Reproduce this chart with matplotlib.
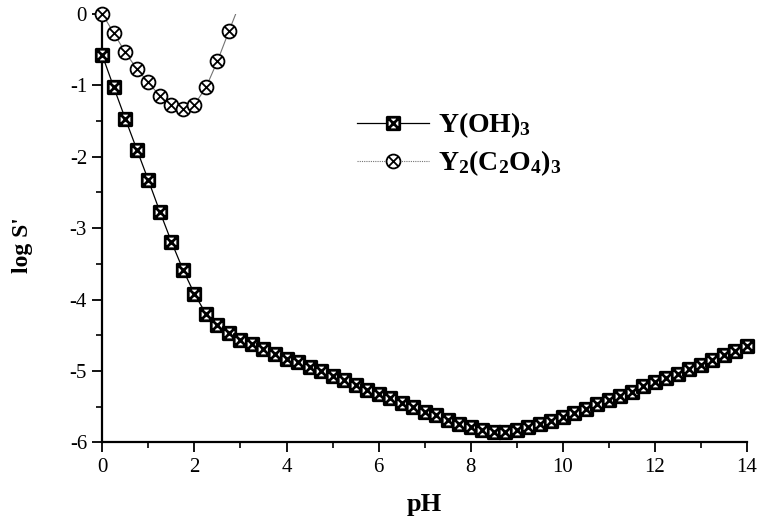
import numpy as np
import matplotlib
matplotlib.use("Agg")
import matplotlib.pyplot as plt
from matplotlib.path import Path
from matplotlib.ticker import MultipleLocator

plt.rcParams['font.family'] = ['Liberation Serif', 'DejaVu Serif']
plt.rcParams['mathtext.fontset'] = 'custom'
plt.rcParams['mathtext.rm'] = 'Liberation Serif:bold'
plt.rcParams['mathtext.default'] = 'rm'
plt.rcParams['axes.unicode_minus'] = False

# Y(OH)3, pH 0..14 step 0.25
ph_oh = np.arange(0, 14.01, 0.25)
logs_oh = [-0.58, -1.03, -1.47, -1.90, -2.33, -2.77, -3.19, -3.58, -3.92,
           -4.20, -4.36, -4.47, -4.56, -4.62, -4.69, -4.76, -4.83, -4.88,
           -4.95, -5.00, -5.07, -5.13, -5.19, -5.26, -5.32, -5.38, -5.45,
           -5.51, -5.57, -5.62, -5.69, -5.74, -5.78, -5.82, -5.85, -5.85,
           -5.83, -5.78, -5.74, -5.70, -5.65, -5.59, -5.53, -5.46, -5.41,
           -5.35, -5.29, -5.21, -5.15, -5.10, -5.04, -4.97, -4.91, -4.85,
           -4.78, -4.72, -4.65]

# Y2(C2O4)3, pH 0..3 step 0.25 (last point is above the axis top)
ph_ox = np.arange(0, 3.01, 0.25)
logs_ox = [0.00, -0.27, -0.54, -0.77, -0.96, -1.15, -1.27, -1.33, -1.27,
           -1.03, -0.66, -0.24, 0.17]

label_oh = "Y(OH)$_3$"
label_ox = "Y$_2$(C$_2$O$_4$)$_3$"

# marker shapes: square with X, circle with X
diag = Path.make_compound_path(Path([[-1, -1], [1, 1]]), Path([[-1, 1], [1, -1]]))
sq = Path([[-1, -1], [1, -1], [1, 1], [-1, 1], [-1, -1]], closed=True)
sq_x = Path.make_compound_path(sq, diag)
diag_c = Path.make_compound_path(Path([[-.707, -.707], [.707, .707]]),
                                 Path([[-.707, .707], [.707, -.707]]))
circ_x = Path.make_compound_path(Path.unit_circle(), diag_c)

fig = plt.figure(figsize=(7.58, 5.26), dpi=100)
ax = fig.add_axes([0.135, 0.159, 0.8505, 0.8145])

ph_ox = np.asarray(ph_ox)
logs_ox = np.asarray(logs_ox)
inside = logs_ox <= 0

# oxalate curve: line clipped at the top, markers not clipped
ax.plot(ph_ox, logs_ox, color='0.45', lw=0.8)
ax.plot(ph_ox[inside], logs_ox[inside], ls='none', marker=circ_x, ms=10,
        mfc='white', mec='black', mew=1.3, clip_on=False, zorder=3)
ax.plot(ph_oh, logs_oh, color='black', lw=0.9, marker=sq_x, ms=9,
        mfc='white', mec='black', mew=2.0, clip_on=False, zorder=4)

# legend proxies
h1, = ax.plot([], [], color='black', lw=0.9, marker=sq_x, ms=9,
              mfc='white', mec='black', mew=2.0)
h2, = ax.plot([], [], color='0.45', lw=0.8, ls=(0, (1, 1)), marker=circ_x,
              ms=10, mfc='white', mec='black', mew=1.3)
fig.legend([h1, h2], [label_oh, label_ox], loc='upper left',
           bbox_to_anchor=(0.471, 0.79), frameon=False,
           prop={'weight': 'bold', 'size': 20},
           handlelength=2.6, handletextpad=0.3, labelspacing=0.3,
           borderaxespad=0, borderpad=0)

ax.set_xlim(0, 14)
ax.set_ylim(-6, 0)
ax.xaxis.set_major_locator(MultipleLocator(2))
ax.xaxis.set_minor_locator(MultipleLocator(1))
ax.yaxis.set_major_locator(MultipleLocator(1))
ax.yaxis.set_minor_locator(MultipleLocator(0.5))
ax.tick_params(which='major', direction='out', length=7, width=1.3,
               labelsize=15, pad=4)
ax.tick_params(which='minor', direction='out', length=4, width=1.2)

for s in ('top', 'right'):
    ax.spines[s].set_visible(False)
for s in ('left', 'bottom'):
    ax.spines[s].set_linewidth(1.6)

ax.set_xlabel("pH", fontsize=19, fontweight='bold', labelpad=12)
ax.set_ylabel("log S'", fontsize=17, fontweight='bold')
ax.yaxis.set_label_coords(-0.108, 0.46)

fig.savefig("out.png", dpi=100)
